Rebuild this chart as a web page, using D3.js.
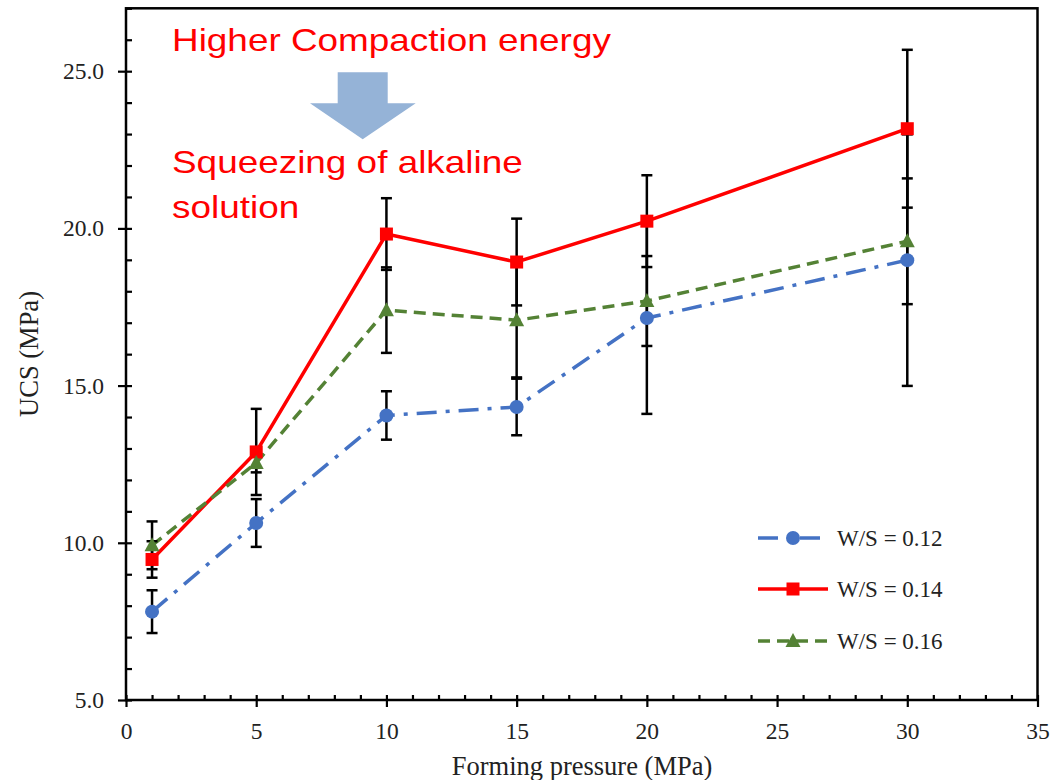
<!doctype html>
<html>
<head>
<meta charset="utf-8">
<title>UCS vs forming pressure</title>
<script src="https://cdn.jsdelivr.net/npm/d3@7"></script>
<style>
  body { margin: 0; background: #fff; }
  svg { display: block; }
</style>
</head>
<body>
<script>
// data
var pressure = [1, 5, 10, 15, 20, 30];
var ucs012 = [7.81, 10.63, 14.05, 14.32, 17.15, 18.99];
var err012 = [0.68, 0.76, 0.77, 0.90, 3.05, 4.00];
var ucs014 = [9.47, 12.89, 19.82, 18.93, 20.23, 23.17];
var err014 = [0.58, 1.37, 1.14, 1.38, 1.46, 2.51];
var ucs016 = [9.92, 12.54, 17.40, 17.08, 17.69, 19.59];
var err016 = [0.76, 0.30, 1.36, 1.82, 1.43, 2.00];
var seriesNames = ["W/S = 0.12", "W/S = 0.14", "W/S = 0.16"];
var xTicks = [0, 5, 10, 15, 20, 25, 30, 35];
var yTicks = [5, 10, 15, 20, 25];
var notes = ["Higher Compaction energy", "Squeezing of alkaline", "solution"];

var width = 1059, height = 780;
var serif = "'Liberation Serif', 'Times New Roman', serif";
var sans = "'Liberation Sans', Arial, sans-serif";

var svg = d3.select("body").append("svg")
  .attr("width", width).attr("height", height);

var x = d3.scaleLinear().domain([0, 35]).range([126, 1037.5]);
var y = d3.scaleLinear().domain([5, 27]).range([700, 8.3]);

var series = [
  {name: seriesNames[0], vals: ucs012, err: err012, color: "#4472C4", dash: "20,9,4,9", marker: "circle"},
  {name: seriesNames[1], vals: ucs014, err: err014, color: "#FF0000", dash: null, marker: "square"},
  {name: seriesNames[2], vals: ucs016, err: err016, color: "#548235", dash: "12,7", marker: "triangle"}
];

// frame
svg.append("rect")
  .attr("x", x(0)).attr("y", y(27))
  .attr("width", x(35) - x(0)).attr("height", y(5) - y(27))
  .attr("fill", "none").attr("stroke", "#000").attr("stroke-width", 2.5);

// axes - outward major ticks with labels
svg.append("g").attr("transform", "translate(" + x(0) + ",0)")
  .call(d3.axisLeft(y).tickValues(yTicks).tickSize(8).tickPadding(14).tickFormat(d3.format(".1f")));
svg.append("g").attr("transform", "translate(0," + y(5) + ")")
  .call(d3.axisBottom(x).tickValues(xTicks).tickSize(7).tickPadding(15).tickFormat(d3.format("d")));

// inward ticks, every unit
svg.append("g").attr("transform", "translate(" + x(0) + ",0)")
  .call(d3.axisLeft(y).tickValues(d3.range(5, 28)).tickSize(-6).tickFormat(""));
svg.append("g").attr("transform", "translate(0," + y(5) + ")")
  .call(d3.axisBottom(x).tickValues(d3.range(0, 36)).tickSize(-5).tickFormat(""));

svg.selectAll(".domain").remove();
svg.selectAll(".tick line").attr("stroke", "#000").attr("stroke-width", 2.2);
svg.selectAll(".tick text").attr("font-family", serif).attr("font-size", 23.5).attr("fill", "#222");

// axis titles
svg.append("text")
  .attr("x", 582).attr("y", 775)
  .attr("text-anchor", "middle")
  .attr("font-family", serif).attr("font-size", 26.5).attr("fill", "#222")
  .text("Forming pressure (MPa)");
svg.append("text")
  .attr("transform", "translate(38," + 354 + ") rotate(-90)")
  .attr("text-anchor", "middle")
  .attr("font-family", serif).attr("font-size", 26.5).attr("fill", "#222")
  .text("UCS (MPa)");

// lines
var line = d3.line().x(function(d) { return x(d[0]); }).y(function(d) { return y(d[1]); });
series.forEach(function(s) {
  svg.append("path")
    .datum(d3.zip(pressure, s.vals))
    .attr("d", line)
    .attr("fill", "none")
    .attr("stroke", s.color)
    .attr("stroke-width", 3.5)
    .attr("stroke-dasharray", s.dash);
});

// error bars
series.forEach(function(s) {
  var g = svg.append("g");
  pressure.forEach(function(p, i) {
    var lo = y(s.vals[i] - s.err[i]), hi = y(s.vals[i] + s.err[i]), cx = x(p);
    g.append("line").attr("x1", cx).attr("x2", cx).attr("y1", lo).attr("y2", hi);
    g.append("line").attr("x1", cx - 5.5).attr("x2", cx + 5.5).attr("y1", lo).attr("y2", lo);
    g.append("line").attr("x1", cx - 5.5).attr("x2", cx + 5.5).attr("y1", hi).attr("y2", hi);
  });
  g.selectAll("line").attr("stroke", "#000").attr("stroke-width", 2.5);
});

function drawMarker(g, type, cx, cy, color) {
  if (type === "circle") {
    g.append("circle").attr("cx", cx).attr("cy", cy).attr("r", 7).attr("fill", color);
  } else if (type === "square") {
    g.append("rect").attr("x", cx - 6.5).attr("y", cy - 6.5).attr("width", 13).attr("height", 13).attr("fill", color);
  } else {
    g.append("path")
      .attr("d", "M" + cx + "," + (cy - 8) + "L" + (cx + 7.5) + "," + (cy + 6) + "L" + (cx - 7.5) + "," + (cy + 6) + "Z")
      .attr("fill", color);
  }
}

// markers
series.forEach(function(s) {
  var g = svg.append("g");
  pressure.forEach(function(p, i) { drawMarker(g, s.marker, x(p), y(s.vals[i]), s.color); });
});

// legend
var legendY = [538, 589, 641];
series.forEach(function(s, i) {
  var g = svg.append("g");
  g.append("line")
    .attr("x1", 758).attr("x2", 828).attr("y1", legendY[i]).attr("y2", legendY[i])
    .attr("stroke", s.color).attr("stroke-width", 3.5)
    .attr("stroke-dasharray", s.dash);
  drawMarker(g, s.marker, 793, legendY[i], s.color);
  g.append("text")
    .attr("x", 837).attr("y", legendY[i] + 8)
    .attr("font-family", serif).attr("font-size", 23).attr("fill", "#222")
    .text(s.name);
});

// annotation
var noteY = [51, 173, 218];
var stretch = 1.21;
notes.forEach(function(t, i) {
  svg.append("text")
    .attr("transform", "translate(172," + noteY[i] + ") scale(" + stretch + ",1)")
    .attr("font-family", sans).attr("font-size", 30.5).attr("fill", "#FF0000")
    .text(t);
});
svg.append("path")
  .attr("d", "M337.7,72.3 L387.7,72.3 L387.7,103.3 L415.7,103.3 L362.7,139.3 L310,103.3 L337.7,103.3 Z")
  .attr("fill", "#95B3D7");
</script>
</body>
</html>
